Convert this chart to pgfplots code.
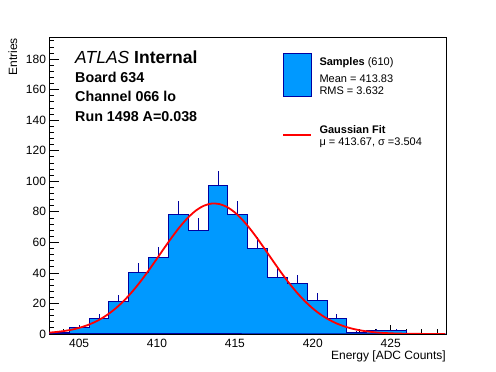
\documentclass[border=0pt]{standalone}
\usepackage{fontspec}
\setmainfont{Liberation Sans}
\usepackage{pgfplots}
\pgfplotsset{compat=1.18}
\definecolor{histfill}{RGB}{0,153,255}
\definecolor{histline}{RGB}{0,0,160}
\begin{document}
\begin{tikzpicture}[x=1pt,y=1pt]
\path[use as bounding box] (0pt,0pt) rectangle (496pt,372pt);
\begin{axis}[
  at={(49.5pt,38pt)}, anchor=south west,
  scale only axis, width=396.5pt, height=297pt,
  xmin=403.1, xmax=428.55, ymin=0, ymax=194.5,
  axis line style={line width=0.8pt},
  tick pos=left, tick align=inside,
  major tick length=9pt, minor tick length=4.6pt,
  xtick={405,410,415,420,425},
  minor xtick={404,...,428},
  ytick={0,20,...,180},
  minor ytick={0,4,...,192},
  tick style={black, line width=0.8pt},
  /pgf/number format/assume math mode=true,
  ticklabel style={font=\fontsize{12}{14}\selectfont},
  xticklabel style={yshift=-2pt},
  xlabel={Energy [ADC Counts]},
  ylabel={Entries},
  xlabel style={at={(rel axis cs:1,0)}, anchor=base east, inner sep=0pt, yshift=-25.5pt, font=\fontsize{12}{14}\selectfont},
  ylabel style={at={(rel axis cs:0,1)}, anchor=base east, inner sep=0pt, yshift=32.5pt, xshift=-1pt, font=\fontsize{12}{14}\selectfont},
]
\addplot[const plot, fill=histfill, draw=histline, line width=1pt] coordinates {
(403.1,1) (404.3725,4) (405.645,10) (406.9175,21) (408.19,40) (409.4625,50)
(410.735,78) (412.0075,68) (413.28,97) (414.5525,78) (415.825,56) (417.0975,37)
(418.37,33) (419.6425,22) (420.915,10) (422.1875,1) (423.46,2) (424.7325,2)
(426.005,0) (427.2775,0) (428.55,0)} \closedcycle;
\addplot[draw=none, mark=none, forget plot,
  error bars/.cd, y dir=plus, y explicit, error mark=none,
  error bar style={draw=histline, solid, line width=1pt}] coordinates {
(403.736,1) +- (0,1)
(405.009,4) +- (0,2)
(406.281,10) +- (0,3.16)
(407.554,21) +- (0,4.58)
(408.826,40) +- (0,6.32)
(410.099,50) +- (0,7.07)
(411.371,78) +- (0,8.83)
(412.644,68) +- (0,8.25)
(413.916,97) +- (0,9.85)
(415.189,78) +- (0,8.83)
(416.461,56) +- (0,7.48)
(417.734,37) +- (0,6.08)
(419.006,33) +- (0,5.74)
(420.279,22) +- (0,4.69)
(421.551,10) +- (0,3.16)
(422.824,1) +- (0,1)
(424.096,2) +- (0,1.41)
(425.369,2) +- (0,1.41)
};
\addplot[red, line width=1.8pt, smooth] coordinates {
(403.0,0.83) (403.5,1.27) (404.0,1.90) (404.5,2.78) (405.0,4.01) (405.5,5.64)
(406.0,7.79) (406.5,10.53) (407.0,13.96) (407.5,18.14) (408.0,23.09) (408.5,28.79)
(409.0,35.18) (409.5,42.11) (410.0,49.40) (410.5,56.79) (411.0,63.96) (411.5,70.58)
(412.0,76.32) (412.5,80.86) (413.0,83.95) (413.5,85.40) (414.0,85.12) (414.5,83.13)
(415.0,79.56) (415.5,74.60) (416.0,68.54) (416.5,61.71) (417.0,54.43) (417.5,47.05)
(418.0,39.85) (418.5,33.06) (419.0,26.89) (419.5,21.42) (420.0,16.72) (420.5,12.79)
(421.0,9.59) (421.5,7.04) (422.0,5.07) (422.5,3.57) (423.0,2.47) (423.5,1.67)
(424.0,1.11) (424.5,0.72) (425.0,0.46) (425.5,0.28) (426.0,0.17) (426.5,0.10)
(427.0,0.06) (427.5,0.03) (428.0,0.02) (428.5,0.01)};
\end{axis}
% text labels
\node[anchor=base west, inner sep=0pt, font=\fontsize{17.5}{20}\selectfont] at (75pt,308pt) {\textit{ATLAS} \textbf{Internal}};
\node[anchor=base west, inner sep=0pt, font=\fontsize{14.3}{16}\selectfont\bfseries] at (75pt,289pt) {Board 634};
\node[anchor=base west, inner sep=0pt, font=\fontsize{14.3}{16}\selectfont\bfseries] at (75pt,270pt) {Channel 066 lo};
\node[anchor=base west, inner sep=0pt, font=\fontsize{14.3}{16}\selectfont\bfseries] at (75pt,250.5pt) {Run 1498 A=0.038};
% legend
\draw[fill=histfill, draw=histline, line width=1pt] (283.3pt,275.7pt) rectangle (311.3pt,318.7pt);
\node[anchor=base west, inner sep=0pt, font=\fontsize{11}{13}\selectfont] at (319.3pt,306.7pt) {\textbf{Samples} (610)};
\node[anchor=base west, inner sep=0pt, font=\fontsize{11}{13}\selectfont] at (319.3pt,289pt) {Mean = 413.83};
\node[anchor=base west, inner sep=0pt, font=\fontsize{11}{13}\selectfont] at (319.3pt,277pt) {RMS = 3.632};
\draw[red, line width=2pt] (283.3pt,236.7pt) -- (311.3pt,236.7pt);
\node[anchor=base west, inner sep=0pt, font=\fontsize{11}{13}\selectfont\bfseries] at (319.3pt,238.3pt) {Gaussian Fit};
\node[anchor=base west, inner sep=0pt, font=\fontsize{11}{13}\selectfont] at (319.3pt,226.7pt) {μ = 413.67, σ =3.504};
\end{tikzpicture}
\end{document}
